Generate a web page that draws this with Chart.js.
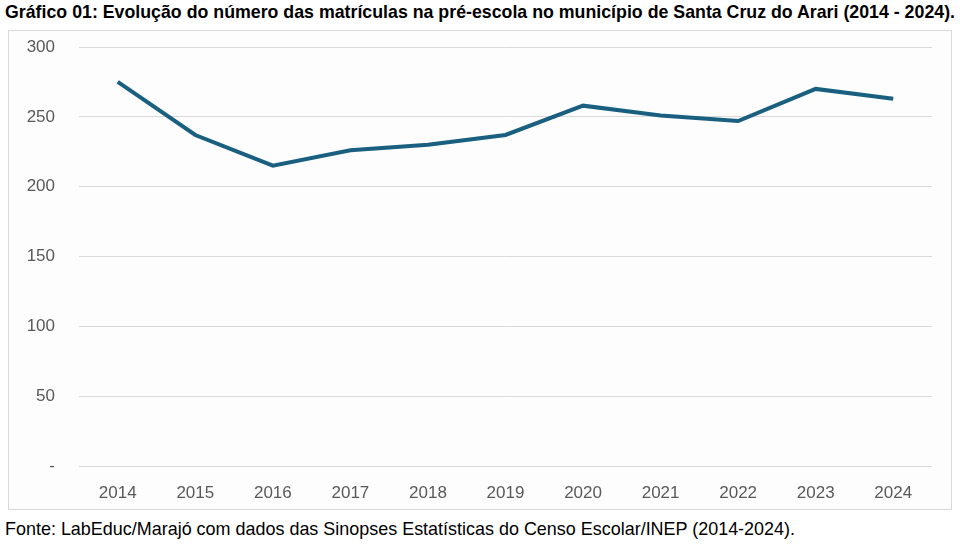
<!DOCTYPE html>
<html>
<head>
  <meta charset="utf-8">
  <title>Gráfico 01</title>
  <style>
    body { margin: 0; background: #ffffff; width: 963px; height: 548px; position: relative; overflow: hidden; }
    .titulo { position: absolute; left: 5px; top: 1px; font-family: 'Liberation Sans', sans-serif; font-weight: bold; font-size: 19px; color: #000; white-space: nowrap; transform-origin: left top; }
    .caixa { position: absolute; left: 8px; top: 30px; width: 944px; height: 480px; border: 1px solid #d9d9d9; box-sizing: border-box; background: #fdfdfd; }
    .fonte { position: absolute; left: 5px; top: 518px; font-family: 'Liberation Sans', sans-serif; font-size: 19px; color: #000; white-space: nowrap; transform-origin: left top; }
  </style>
  <script src="https://cdn.jsdelivr.net/npm/chart.js"></script>
</head>
<body>
  <div class="titulo" id="titulo">Gráfico 01: Evolução do número das matrículas na pré-escola no município de Santa Cruz do Arari (2014 - 2024).</div>
  <div class="caixa"><canvas id="grafico"></canvas></div>
  <div class="fonte" id="fonte">Fonte: LabEduc/Marajó com dados das Sinopses Estatísticas do Censo Escolar/INEP (2014-2024).</div>
  <script>
    // dados
    const anos = ['2014', '2015', '2016', '2017', '2018', '2019', '2020', '2021', '2022', '2023', '2024'];
    const matriculas = [275, 237, 215, 226, 230, 237, 258, 251, 247, 270, 263];
    const ticksY = [0, 50, 100, 150, 200, 250, 300];

    // texto condensado, como no original
    function ajustar(id, largura) {
      const el = document.getElementById(id);
      const w = el.getBoundingClientRect().width;
      el.style.transform = 'scaleX(' + (largura / w) + ')';
    }
    ajustar('titulo', 950);
    ajustar('fonte', 790);

    const ctx = document.getElementById('grafico').getContext('2d');
    const chart = new Chart(ctx, {
      type: 'line',
      data: {
        labels: anos,
        datasets: [{
          data: matriculas,
          borderColor: '#195f80',
          borderWidth: 4,
          pointRadius: 0,
          tension: 0,
          fill: false
        }]
      },
      options: {
        responsive: true,
        maintainAspectRatio: false,
        animation: false,
        layout: { padding: { top: 0, right: 19, left: 0, bottom: 0 } },
        plugins: { legend: { display: false }, tooltip: { enabled: false } },
        scales: {
          x: {
            offset: true,
            grid: { display: false, drawTicks: false },
            border: { display: false },
            ticks: { color: '#595959', font: { family: 'Liberation Sans', size: 17 }, padding: 17, maxRotation: 0 },
            afterFit: s => { s.height = 43; }
          },
          y: {
            min: 0,
            max: 300,
            afterBuildTicks: s => { s.ticks = ticksY.map(v => ({ value: v })); },
            grid: { color: '#d9d9d9', lineWidth: 1, drawTicks: false },
            border: { display: false },
            ticks: {
              color: '#595959',
              font: { family: 'Liberation Sans', size: 17 },
              padding: 24,
              callback: v => v === 0 ? '-' : v
            },
            afterFit: s => { s.width = 70; s.paddingTop = 16; s.paddingBottom = 10; }
          }
        }
      }
    });
  </script>
</body>
</html>
